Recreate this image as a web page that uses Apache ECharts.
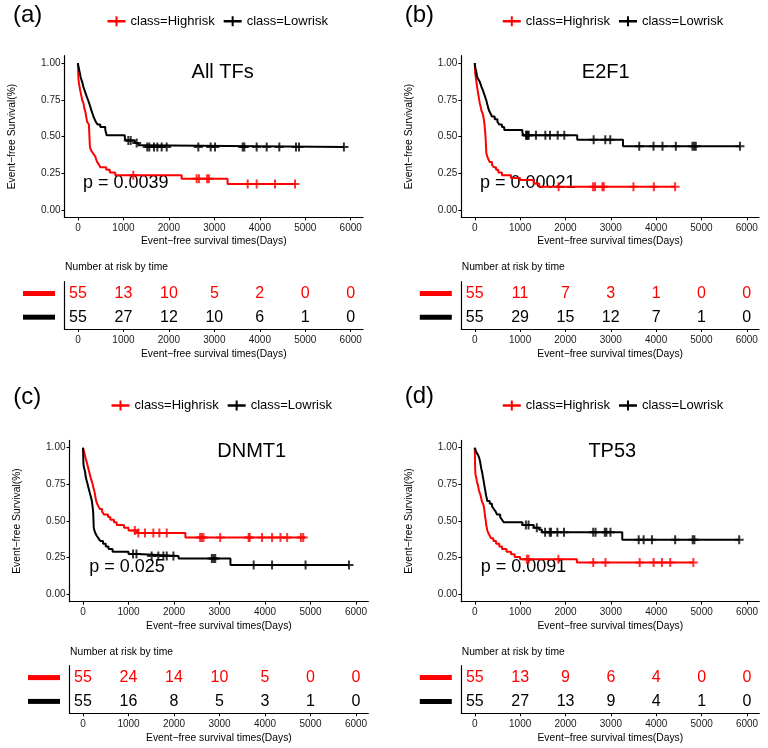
<!DOCTYPE html>
<html><head><meta charset="utf-8">
<script src="https://cdn.jsdelivr.net/npm/echarts@6/dist/echarts.min.js"></script>
<style>html,body{margin:0;padding:0;background:#fff}#c{width:768px;height:748px}</style>
</head><body><div id="c"></div>
<script>
// ---------- DATA ----------
const xTicks = [0, 1000, 2000, 3000, 4000, 5000, 6000];
const yTicks = [0, 0.25, 0.5, 0.75, 1];
const riskTimes = [0, 1000, 2000, 3000, 4000, 5000, 6000];
const groupNames = ['class=Highrisk', 'class=Lowrisk'];
const riskRows = ['Highrisk', 'Lowrisk'];
const panelLabels = ['(a)', '(b)', '(c)', '(d)'];
const panelTitles = ['All TFs', 'E2F1', 'DNMT1', 'TP53'];
const pValues = ['p = 0.0039', 'p = 0.00021', 'p = 0.025', 'p = 0.0091'];

// (a) All TFs
const allTFsHigh = [[0,1],[3,0.964],[6,0.927],[10,0.891],[25,0.855],[45,0.818],[70,0.782],[95,0.745],[120,0.727],[140,0.691],[160,0.673],[180,0.636],[200,0.600],[240,0.582],[248,0.527],[255,0.473],[262,0.436],[270,0.418],[300,0.400],[340,0.382],[380,0.364],[400,0.345],[420,0.327],[460,0.309],[490,0.291],[620,0.273],[700,0.255],[820,0.236],[2280,0.212],[3290,0.177],[4800,0.177]];
const allTFsHighCensor = [[1216,0.236],[2610,0.212],[2660,0.212],[2840,0.212],[2880,0.212],[3733,0.177],[3931,0.177],[4334,0.177],[4774,0.177]];
const allTFsLow = [[0,1],[5,0.982],[20,0.964],[30,0.945],[45,0.927],[55,0.909],[70,0.891],[90,0.873],[105,0.855],[120,0.836],[140,0.818],[160,0.800],[180,0.782],[200,0.764],[225,0.745],[245,0.727],[265,0.709],[280,0.691],[300,0.673],[320,0.655],[340,0.636],[365,0.618],[390,0.600],[430,0.582],[490,0.564],[600,0.545],[615,0.527],[630,0.509],[1030,0.491],[1050,0.473],[1250,0.456],[1330,0.440],[1400,0.428],[5850,0.428]];
const allTFsLowCensor = [[1107,0.473],[1159,0.473],[1291,0.456],[1525,0.428],[1569,0.428],[1672,0.428],[1745,0.428],[1841,0.428],[1951,0.428],[2647,0.428],[2919,0.428],[3014,0.428],[3623,0.428],[3659,0.428],[3931,0.428],[4151,0.428],[4429,0.428],[4796,0.428],[4862,0.428],[5850,0.428]];
const allTFsRiskHigh = [55, 13, 10, 5, 2, 0, 0];
const allTFsRiskLow = [55, 27, 12, 10, 6, 1, 0];

// (b) E2F1
const e2f1High = [[0,1],[5,0.964],[10,0.927],[20,0.909],[35,0.873],[52,0.836],[70,0.800],[90,0.764],[110,0.727],[125,0.709],[150,0.673],[175,0.655],[199,0.618],[215,0.582],[225,0.545],[235,0.509],[242,0.473],[248,0.436],[253,0.400],[258,0.382],[275,0.364],[300,0.345],[330,0.327],[380,0.309],[420,0.291],[470,0.273],[520,0.255],[600,0.236],[800,0.218],[1000,0.204],[1300,0.180],[1420,0.159],[4420,0.159]];
const e2f1HighCensor = [[1850,0.159],[2610,0.159],[2654,0.159],[2816,0.159],[2846,0.159],[3500,0.159],[3950,0.159],[4420,0.159]];
const e2f1Low = [[0,1],[5,0.982],[15,0.964],[30,0.945],[40,0.927],[50,0.909],[75,0.891],[110,0.873],[130,0.855],[150,0.836],[175,0.818],[195,0.800],[215,0.782],[235,0.764],[255,0.745],[270,0.727],[285,0.709],[300,0.691],[320,0.673],[350,0.655],[380,0.636],[440,0.618],[500,0.600],[540,0.582],[600,0.564],[650,0.545],[1050,0.527],[1070,0.509],[2260,0.478],[3270,0.434],[5850,0.434]];
const e2f1LowCensor = [[1130,0.509],[1150,0.509],[1170,0.509],[1190,0.509],[1350,0.509],[1557,0.509],[1660,0.509],[1829,0.509],[1975,0.509],[2622,0.478],[2879,0.478],[2989,0.478],[3628,0.434],[3943,0.434],[4141,0.434],[4435,0.434],[4802,0.434],[4840,0.434],[4876,0.434],[5850,0.434]];
const e2f1RiskHigh = [55, 11, 7, 3, 1, 0, 0];
const e2f1RiskLow = [55, 29, 15, 12, 7, 1, 0];

// (c) DNMT1
const dnmt1High = [[0,1],[15,0.982],[30,0.964],[45,0.945],[60,0.927],[75,0.909],[90,0.891],[105,0.873],[120,0.855],[135,0.836],[150,0.818],[165,0.800],[180,0.782],[200,0.764],[215,0.745],[230,0.727],[245,0.709],[258,0.691],[268,0.673],[278,0.655],[290,0.636],[310,0.618],[340,0.600],[370,0.582],[420,0.564],[460,0.545],[550,0.527],[600,0.509],[680,0.491],[740,0.473],[900,0.455],[1000,0.436],[1190,0.418],[2250,0.387],[4880,0.387]];
const dnmt1HighCensor = [[1140,0.436],[1215,0.418],[1362,0.418],[1546,0.418],[1678,0.418],[1840,0.418],[2574,0.387],[2611,0.387],[2648,0.387],[3015,0.387],[3640,0.387],[3662,0.387],[3934,0.387],[4155,0.387],[4340,0.387],[4487,0.387],[4790,0.387],[4840,0.387]];
const dnmt1Low = [[0,1],[3,0.964],[6,0.927],[10,0.891],[15,0.873],[30,0.855],[45,0.836],[60,0.800],[75,0.782],[90,0.764],[105,0.745],[120,0.727],[135,0.709],[150,0.691],[165,0.673],[180,0.655],[195,0.636],[210,0.600],[222,0.564],[228,0.527],[232,0.491],[236,0.455],[250,0.436],[270,0.418],[300,0.400],[340,0.382],[380,0.364],[440,0.345],[500,0.327],[560,0.309],[650,0.291],[1000,0.275],[1200,0.262],[2100,0.245],[3240,0.200],[5846,0.200]];
const dnmt1LowCensor = [[1100,0.275],[1175,0.275],[1508,0.262],[1655,0.262],[1766,0.262],[1840,0.262],[1987,0.262],[2832,0.245],[2869,0.245],[2906,0.245],[3751,0.200],[4155,0.200],[4891,0.200],[5846,0.200]];
const dnmt1RiskHigh = [55, 24, 14, 10, 5, 0, 0];
const dnmt1RiskLow = [55, 16, 8, 5, 3, 1, 0];

// (d) TP53
const tp53High = [[0,1],[2,0.964],[4,0.927],[6,0.891],[10,0.855],[15,0.818],[30,0.800],[50,0.764],[70,0.745],[90,0.709],[110,0.691],[130,0.673],[155,0.636],[180,0.618],[200,0.600],[215,0.564],[228,0.527],[240,0.509],[252,0.473],[265,0.455],[275,0.436],[300,0.418],[330,0.400],[360,0.382],[410,0.364],[470,0.345],[540,0.327],[600,0.309],[700,0.291],[800,0.273],[880,0.255],[1000,0.239],[2250,0.217],[4817,0.217]];
const tp53HighCensor = [[1148,0.239],[1185,0.239],[1843,0.239],[2610,0.217],[2880,0.217],[3634,0.217],[3941,0.217],[4124,0.217],[4307,0.217],[4817,0.217]];
const tp53Low = [[0,1],[20,0.982],[45,0.964],[80,0.945],[100,0.927],[115,0.909],[125,0.891],[135,0.873],[145,0.855],[160,0.836],[170,0.818],[180,0.800],[190,0.782],[200,0.764],[210,0.745],[220,0.727],[230,0.709],[240,0.691],[250,0.673],[265,0.655],[275,0.636],[330,0.618],[380,0.600],[420,0.582],[460,0.564],[490,0.545],[560,0.527],[600,0.509],[640,0.491],[1050,0.473],[1300,0.455],[1420,0.440],[1480,0.424],[3250,0.373],[5827,0.373]];
const tp53LowCensor = [[1126,0.473],[1185,0.473],[1367,0.455],[1550,0.424],[1652,0.424],[1680,0.424],[1820,0.424],[1966,0.424],[2610,0.424],[2661,0.424],[2865,0.424],[2900,0.424],[2990,0.424],[3612,0.373],[3721,0.373],[3904,0.373],[4416,0.373],[4803,0.373],[4840,0.373],[5827,0.373]];
const tp53RiskHigh = [55, 13, 9, 6, 4, 0, 0];
const tp53RiskLow = [55, 27, 13, 9, 4, 1, 0];

// ---------- STYLE / LAYOUT ----------
const FONT = '"Liberation Sans", Arial, Helvetica, sans-serif';
const RED = '#ff0000', BLACK = '#000000', AXC = '#1a1a1a';
const X_TITLE = 'Event\u2212free survival times(Days)';
const Y_TITLE = 'Event\u2212free Survival(%)';
const PLUS = 'path://M-1,-4.5H1V-1H4.5V1H1V4.5H-1V1H-4.5V-1H-1Z';
const LEG_ICON = 'path://M0,3.8H18V6.2H0Z M8,0H10V10H8Z';

const curves = [
  [allTFsHigh, allTFsHighCensor, allTFsLow, allTFsLowCensor, allTFsRiskHigh, allTFsRiskLow],
  [e2f1High, e2f1HighCensor, e2f1Low, e2f1LowCensor, e2f1RiskHigh, e2f1RiskLow],
  [dnmt1High, dnmt1HighCensor, dnmt1Low, dnmt1LowCensor, dnmt1RiskHigh, dnmt1RiskLow],
  [tp53High, tp53HighCensor, tp53Low, tp53LowCensor, tp53RiskHigh, tp53RiskLow]
];

const L = [
  {left:64.5, top:55.65, w:298.5, h:161.7, rTop:281.7, rH:47.3, lx:13, ly:15, gx:107.5, gy:21.7, tx:222.7, ty:72, px:83, py:183, nx:65, ny:267},
  {left:461.3, top:55.65, w:297.7, h:161.7, rTop:281.7, rH:47.3, lx:404.7, ly:15, gx:502.8, gy:21.7, tx:605.7, ty:72, px:480, py:183, nx:461.7, ny:267.3},
  {left:69.5, top:440.4, w:298.8, h:161.3, rTop:665.7, rH:47.6, lx:13.3, ly:397, gx:111.5, gy:406, tx:251.7, ty:451.7, px:89.3, py:566.7, nx:70, ny:652.3},
  {left:461.3, top:440.4, w:298, h:161.3, rTop:665.7, rH:47.6, lx:404.7, ly:396, gx:502.8, gy:406, tx:612.3, ty:451.7, px:480.7, py:566.7, nx:461.7, ny:652.3}
];

const grid = [], xAxis = [], yAxis = [], series = [], legend = [], graphic = [];
const axLine = {show:true, onZero:false, lineStyle:{color:BLACK, width:1.2}};

L.forEach((p, i) => {
  const [hi, hiC, lo, loC, rHi, rLo] = curves[i];
  const g = 2 * i, r = 2 * i + 1;
  grid.push({left:p.left, top:p.top, width:p.w, height:p.h, containLabel:false, outerBoundsMode:'none'});
  grid.push({left:p.left, top:p.rTop, width:p.w, height:p.rH, containLabel:false, outerBoundsMode:'none'});
  const xa = (gi, gap) => ({
    gridIndex:gi, type:'value', min:-297, max:6270,
    axisLine:axLine, splitLine:{show:false},
    axisTick:{show:true, length:3, customValues:xTicks, lineStyle:{color:BLACK, width:1}},
    axisLabel:{show:true, customValues:xTicks, margin:6, fontSize:10, color:AXC, fontFamily:FONT,
               formatter:v => String(Math.round(v))},
    name:X_TITLE, nameLocation:'middle', nameGap:gap,
    nameTextStyle:{fontSize:10.3, color:BLACK, fontFamily:FONT}
  });
  xAxis.push(xa(g, 19));
  xAxis.push(xa(r, 20));
  yAxis.push({
    gridIndex:g, type:'value', min:-0.05, max:1.05,
    axisLine:axLine, splitLine:{show:false},
    axisTick:{show:true, length:3, customValues:yTicks, lineStyle:{color:BLACK, width:1}},
    axisLabel:{show:true, customValues:yTicks, margin:4, fontSize:10, color:AXC, fontFamily:FONT,
               formatter:v => Number(v).toFixed(2)},
    name:Y_TITLE, nameLocation:'middle', nameGap:47,
    nameTextStyle:{fontSize:10.3, color:BLACK, fontFamily:FONT}
  });
  yAxis.push({
    gridIndex:r, type:'category', data:riskRows, inverse:true,
    axisLine:axLine, axisTick:{show:false}, splitLine:{show:false},
    axisLabel:{show:true, margin:9.5,
      formatter:v => v === 'Highrisk' ? '{r| }' : '{k| }',
      rich:{
        r:{width:32, height:5, lineHeight:5, fontSize:4, backgroundColor:RED},
        k:{width:32, height:5, lineHeight:5, fontSize:4, backgroundColor:BLACK}
      }}
  });
  const lineS = (name, data, color, z) => ({
    type:'line', name, xAxisIndex:g, yAxisIndex:g, data, step:'end',
    showSymbol:false, symbol:'none', silent:true, z,
    lineStyle:{width:2, color}, itemStyle:{color}, emphasis:{disabled:true}
  });
  const cenS = (name, data, color, z) => ({
    type:'scatter', name, xAxisIndex:g, yAxisIndex:g, data, symbol:PLUS,
    symbolSize:9, silent:true, z, itemStyle:{color}, emphasis:{disabled:true}
  });
  series.push(lineS(groupNames[0], hi, RED, 2));
  series.push(cenS(groupNames[0], hiC, RED, 3));
  series.push(lineS(groupNames[1], lo, BLACK, 4));
  series.push(cenS(groupNames[1], loC, BLACK, 5));
  const riskS = (row, counts, color) => ({
    type:'scatter', name:'risk-' + row + '-' + i, xAxisIndex:r, yAxisIndex:r,
    data: riskTimes.map((t, j) => [t, row, counts[j]]),
    symbolSize:0, silent:true, itemStyle:{color, opacity:1},
    label:{show:true, position:'inside', formatter:pp => String(pp.value[2]),
           fontSize:16, color, opacity:1, textBorderWidth:0, fontFamily:FONT}
  });
  series.push(riskS('Highrisk', rHi, RED));
  series.push(riskS('Lowrisk', rLo, BLACK));

  legend.push({
    left:p.gx, top:p.gy - 7, padding:0, itemGap:9, itemWidth:18, itemHeight:10,
    icon:LEG_ICON, selectedMode:false, data:groupNames,
    textStyle:{fontSize:13, color:BLACK, fontFamily:FONT}
  });

  const txt = (text, x, y, size, align) => ({
    type:'text', x, y, silent:true,
    style:{text, fontSize:size, fontFamily:FONT, fill:BLACK,
           align, verticalAlign:'middle', textAlign:align, textVerticalAlign:'middle'}
  });
  graphic.push(txt(panelLabels[i], p.lx, p.ly, 24, 'left'));
  graphic.push(txt(panelTitles[i], p.tx, p.ty, 20, 'center'));
  graphic.push(txt(pValues[i], p.px, p.py, 18, 'left'));
  graphic.push(txt('Number at risk by time', p.nx, p.ny, 10.3, 'left'));
});

const chart = echarts.init(document.getElementById('c'), null, {renderer:'canvas'});
chart.setOption({
  animation:false,
  backgroundColor:'#ffffff',
  textStyle:{fontFamily:FONT},
  grid, xAxis, yAxis, series, legend, graphic,
  tooltip:{show:false}
});
</script></body></html>
